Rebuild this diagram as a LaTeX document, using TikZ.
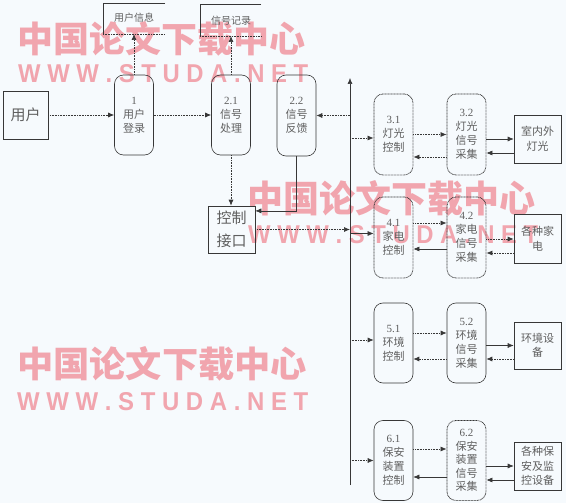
\documentclass[tikz,border=0pt]{standalone}
\usepackage{fontspec}
\setmainfont{Liberation Serif}
\newfontfamily\cjk{Noto Sans CJK SC}
\newfontfamily\wmsans{Liberation Sans}
\usetikzlibrary{arrows.meta,calc}
\definecolor{bgc}{RGB}{246,250,253}
\definecolor{lc}{RGB}{55,55,55}
\definecolor{tc}{RGB}{95,95,95}
\definecolor{wmc}{RGB}{241,165,174}
\tikzset{
  proc/.style={draw=lc, line width=0.6pt, rounded corners=9pt, minimum width=39pt, minimum height=80pt, inner sep=0pt, align=center, text=tc, font=\fontsize{11}{14}\selectfont},
  dproc/.style={proc, line width=0.8pt, dash pattern=on 0.8pt off 0.7pt},
  ext/.style={draw=lc, line width=0.6pt, minimum width=47pt, minimum height=48pt, inner sep=0pt, align=center, text=tc, font=\cjk\fontsize{11}{14.5}\selectfont},
  dotline/.style={draw=lc, line width=0.7pt, dash pattern=on 0.8pt off 0.8pt},
  solidline/.style={draw=lc, line width=0.6pt},
  arr/.style={-{Latex[length=6pt,width=5pt]}},
  storetext/.style={text=tc, font=\cjk\fontsize{10}{12}\selectfont, inner sep=0pt},
  wmtext/.style={text=wmc, inner sep=0pt, anchor=north west}
}
\begin{document}
\begin{tikzpicture}[x=1pt,y=-1pt]
\fill[bgc] (0,0) rectangle (566,503);
\useasboundingbox (0,0) rectangle (566,503);

% watermarks
\node[wmtext] (wm1a) at (17,21) {\resizebox{288pt}{31pt}{\cjk\bfseries 中国论文下载中心}};
\node[wmtext] (wm1b) at (18,64) {\resizebox{290pt}{18pt}{\wmsans\bfseries W W W . S T U D A . N E T}};
\node[wmtext] (wm2a) at (247,180) {\resizebox{288pt}{32pt}{\cjk\bfseries 中国论文下载中心}};
\node[wmtext] (wm2b) at (248,225) {\resizebox{290pt}{18pt}{\wmsans\bfseries W W W . S T U D A . N E T}};
\node[wmtext] (wm3a) at (17,346) {\resizebox{290pt}{31pt}{\cjk\bfseries 中国论文下载中心}};
\node[wmtext] (wm3b) at (17,392) {\resizebox{291pt}{18pt}{\wmsans\bfseries W W W . S T U D A . N E T}};

% left part
\node[ext, minimum width=45pt, minimum height=48pt, font=\cjk\fontsize{15}{18}\selectfont] (user) at (25.5,115) {用户};
\node[proc] (p1) at (134,115) {1\\{\cjk 用户}\\{\cjk 登录}};
\node[proc] (p21) at (231,115) {2.1\\{\cjk 信号}\\{\cjk 处理}};
\node[proc, minimum height=81pt] (p22) at (296.5,115.5) {2.2\\{\cjk 信号}\\{\cjk 反馈}};
\node[ext, minimum width=47pt, minimum height=47pt, font=\cjk\fontsize{15}{23}\selectfont] (ctl) at (231.5,229.5) {控制\\接口};

% data stores
\coordinate (s1a) at (165,3);
\coordinate (s1b) at (103,3);
\coordinate (s1c) at (103,34);
\coordinate (s1d) at (165,34);
\coordinate (s1in) at (134,34);
\draw[solidline] (s1a) -- (s1b) -- (s1c);
\draw[dotline] (s1c) -- (s1d);
\node[storetext] (s1t) at (134,18) {用户信息};
\coordinate (s2a) at (261,4);
\coordinate (s2b) at (200,4);
\coordinate (s2c) at (200,36);
\coordinate (s2d) at (261,36);
\coordinate (s2in) at (231,36);
\draw[solidline] (s2a) -- (s2b) -- (s2c);
\draw[dotline] (s2c) -- (s2d);
\node[storetext] (s2t) at (231,21) {信号记录};

% right processes
\node[dproc, minimum height=81pt] (p31) at (393.5,134.5) {3.1\\{\cjk 灯光}\\{\cjk 控制}};
\node[dproc, minimum height=81pt] (p32) at (466.5,134.5) {3.2\\{\cjk 灯光}\\{\cjk 信号}\\{\cjk 采集}};
\node[ext] (e3) at (537.5,139) {室内外\\灯光};

\node[dproc, minimum height=81pt] (p41) at (393.5,237.5) {4.1\\{\cjk 家电}\\{\cjk 控制}};
\node[dproc, minimum height=81pt] (p42) at (466.5,237.5) {4.2\\{\cjk 家电}\\{\cjk 信号}\\{\cjk 采集}};
\node[ext, minimum height=49pt] (e4) at (537.5,238.5) {各种家\\电};

\node[proc] (p51) at (393.5,343) {5.1\\{\cjk 环境}\\{\cjk 控制}};
\node[proc] (p52) at (466.5,343) {5.2\\{\cjk 环境}\\{\cjk 信号}\\{\cjk 采集}};
\node[ext, minimum height=47pt] (e5) at (537.5,345.5) {环境设\\备};

\node[proc] (p61) at (393.5,460.5) {6.1\\{\cjk 保安}\\{\cjk 装置}\\{\cjk 控制}};
\node[dproc, font=\fontsize{11}{13.5}\selectfont] (p62) at (466.5,460.5) {6.2\\{\cjk 保安}\\{\cjk 装置}\\{\cjk 信号}\\{\cjk 采集}};
\node[ext] (e6) at (537.5,466) {各种保\\安及监\\控设备};

% bus
\coordinate (busTop) at (350,78);
\coordinate (busBot) at (350,485);
\draw[solidline, arr] (busBot) -- (busTop);

% left connectors
\draw[dotline, arr] (user.east) -- (p1.west);
\draw[dotline, arr] (p1.east) -- (p21.west);
\draw[dotline, arr] (p1.north) -- (s1in);
\draw[dotline, arr] (p21.north) -- (s2in);
\draw[dotline, arr] (p21.south) -- (p21.south |- ctl.north);
\draw[solidline, arr] (p22.south) |- (ctl.38);
\draw[dotline, arr] (p22.east -| busTop) -- (p22.east);
\draw[dotline, arr] (ctl.east) -- (ctl.east -| busTop);

% bus to controls
\draw[dotline, arr] ([yshift=-3.5pt]p31.west -| busTop) -- ([yshift=-3.5pt]p31.west);
\draw[solidline, arr] ([yshift=4pt]p41.west -| busTop) -- ([yshift=4pt]p41.west);
\draw[dotline, arr] ([yshift=3pt]p51.west -| busTop) -- ([yshift=3pt]p51.west);
\draw[dotline, arr] (p61.west -| busTop) -- (p61.west);

% row 3
\draw[dotline, arr] (p31.east) -- (p32.west);
\draw[dotline, arr] ([yshift=-22.5pt]p32.west) -- ([yshift=-22.5pt]p31.east);
\draw[solidline, arr] ([yshift=-4.5pt]p32.east) -- (e3.west);
\draw[solidline, arr] ([yshift=-14pt]e3.west) -- ([yshift=-18.5pt]p32.east);

% row 4
\draw[dotline, arr] ([yshift=14.5pt]p41.east) -- ([yshift=14.5pt]p42.west);
\draw[solidline, arr] ([yshift=-11.5pt]p42.west) -- ([yshift=-11.5pt]p41.east);
\draw[dotline, arr] ([yshift=-1.5pt]p42.east) -- ([yshift=-0.5pt]e4.west);
\draw[dotline, arr] ([yshift=-14.5pt]e4.west) -- ([yshift=-15.5pt]p42.east);

% row 5
\draw[dotline, arr] ([yshift=10pt]p51.east) -- ([yshift=10pt]p52.west);
\draw[dotline, arr] ([yshift=-16pt]p52.west) -- ([yshift=-16pt]p51.east);
\draw[solidline, arr] ([yshift=-2.5pt]p52.east) -- (e5.west);
\draw[dotline, arr] ([yshift=-13.5pt]e5.west) -- ([yshift=-16pt]p52.east);

% row 6
\draw[dotline, arr] ([yshift=11.5pt]p61.east) -- ([yshift=11.5pt]p62.west);
\draw[solidline, arr] ([yshift=-16.5pt]p62.west) -- ([yshift=-16.5pt]p61.east);
\draw[solidline, arr] ([yshift=-5.5pt]p62.east) -- (e6.west);
\draw[solidline, arr] ([yshift=-14pt]e6.west) -- ([yshift=-19.5pt]p62.east);
\end{tikzpicture}
\end{document}
